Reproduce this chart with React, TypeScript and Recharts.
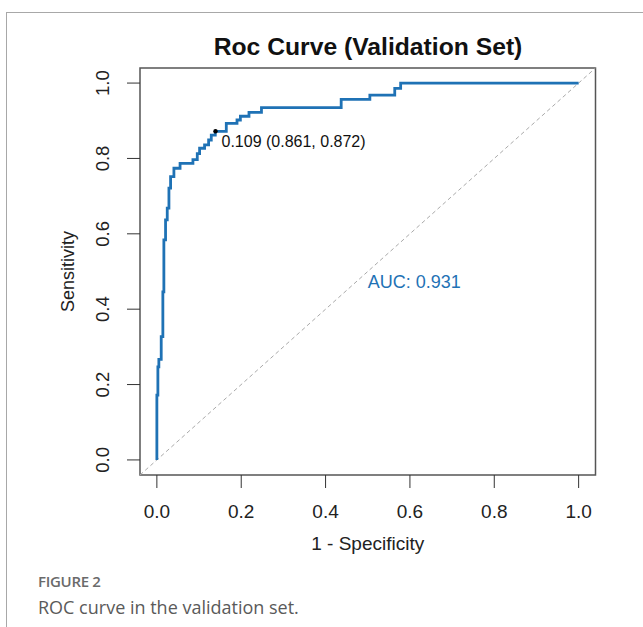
import React from "react";
import {
	LineChart,
	Line,
	XAxis,
	YAxis,
	ReferenceLine,
	ReferenceArea,
	ReferenceDot,
} from "recharts";

// staircase vertices (1 - specificity, sensitivity)
const fpr = [
	0, 0, 0.0024, 0.0024, 0.0047, 0.0047, 0.0103, 0.0103, 0.0142, 0.0142, 0.0166,
	0.0166, 0.0206, 0.0206, 0.0246, 0.0246, 0.0286, 0.0286, 0.0325, 0.0325,
	0.0404, 0.0404, 0.055, 0.055, 0.0855, 0.0855, 0.0958, 0.0958, 0.1013, 0.1013,
	0.1131, 0.1131, 0.1227, 0.1227, 0.129, 0.129, 0.1385, 0.1385, 0.1646, 0.1646,
	0.19, 0.19, 0.198, 0.198, 0.2184, 0.2184, 0.248, 0.248, 0.437, 0.437, 0.505,
	0.505, 0.564, 0.564, 0.578, 0.578, 1,
];
const tpr = [
	0, 0.172, 0.172, 0.247, 0.247, 0.267, 0.267, 0.327, 0.327, 0.446, 0.446,
	0.584, 0.584, 0.637, 0.637, 0.668, 0.668, 0.721, 0.721, 0.752, 0.752, 0.774,
	0.774, 0.787, 0.787, 0.797, 0.797, 0.813, 0.813, 0.827, 0.827, 0.836, 0.836,
	0.849, 0.849, 0.862, 0.862, 0.872, 0.872, 0.893, 0.893, 0.902, 0.902, 0.912,
	0.912, 0.922, 0.922, 0.935, 0.935, 0.957, 0.957, 0.968, 0.968, 0.986, 0.986,
	1, 1,
];
const xTicks = [0, 0.2, 0.4, 0.6, 0.8, 1];
const yTicks = [0, 0.2, 0.4, 0.6, 0.8, 1];
const bestPoint = { fpr: 0.139, tpr: 0.872, label: "0.109 (0.861, 0.872)" };
const aucText = "AUC: 0.931";

const data = fpr.map((x, i) => ({ fpr: x, tpr: tpr[i] }));

const FONT = "'Liberation Sans', Arial, sans-serif";
const BLUE = "#1f72b5";
const LO = -0.04;
const HI = 1.04;

const XTick = ({ x, y, payload }: any) => (
	<text
		x={x}
		y={y + 27.5}
		textAnchor="middle"
		fontSize={19}
		fontFamily={FONT}
		fill="#222"
	>
		{Number(payload.value).toFixed(1)}
	</text>
);

const YTick = ({ x, y, payload }: any) => (
	<text
		x={x - 22}
		y={y}
		transform={`rotate(-90 ${x - 22} ${y})`}
		textAnchor="middle"
		dominantBaseline="central"
		fontSize={18.5}
		fontFamily={FONT}
		fill="#222"
	>
		{Number(payload.value).toFixed(1)}
	</text>
);

export default function App() {
	return (
		<div
			style={{
				position: "absolute",
				left: 0,
				top: 0,
				width: 643,
				height: 627,
				background: "#fff",
				overflow: "hidden",
			}}
		>
			<div
				style={{
					position: "absolute",
					left: 6,
					top: 12,
					width: 700,
					height: 700,
					borderLeft: "1.5px solid #a8a8a8",
					borderTop: "1.5px solid #a8a8a8",
				}}
			/>
			<div
				style={{
					position: "absolute",
					left: 0,
					width: 736,
					top: 35,
					textAlign: "center",
					fontFamily: FONT,
					fontWeight: "bold",
					fontSize: 24.7,
					lineHeight: "24px",
					color: "#111",
				}}
			>
				Roc Curve (Validation Set)
			</div>
			<div style={{ position: "absolute", left: 0, top: 0 }}>
				<LineChart
					width={643}
					height={627}
					data={data}
					margin={{ top: 68, right: 47.5, bottom: 72, left: 60 }}
				>
					<XAxis
						type="number"
						dataKey="fpr"
						domain={[LO, HI]}
						ticks={xTicks}
						allowDataOverflow
						axisLine={false}
						tickLine={{ stroke: "#333" }}
						tickSize={13}
						tickMargin={2}
						height={80}
						tick={<XTick />}
						label={(p: any) => {
							const vb = p.viewBox;
							return (
								<text
									x={vb.x + vb.width / 2}
									y={549.5}
									textAnchor="middle"
									fontSize={19}
									fontFamily={FONT}
									fill="#222"
								>
									1 - Specificity
								</text>
							);
						}}
					/>
					<YAxis
						type="number"
						domain={[LO, HI]}
						ticks={yTicks}
						allowDataOverflow
						axisLine={false}
						tickLine={{ stroke: "#333" }}
						tickSize={13}
						tickMargin={2}
						width={80}
						tick={<YTick />}
						label={(p: any) => {
							const vb = p.viewBox;
							const cy = vb.y + vb.height / 2;
							return (
								<text
									x={68}
									y={cy}
									transform={`rotate(-90 68 ${cy})`}
									textAnchor="middle"
									dominantBaseline="central"
									fontSize={18}
									fontFamily={FONT}
									fill="#222"
								>
									Sensitivity
								</text>
							);
						}}
					/>
					<ReferenceArea
						x1={LO}
						x2={HI}
						y1={LO}
						y2={HI}
						fill="none"
						stroke="#555"
						strokeWidth={1.5}
						ifOverflow="visible"
					/>
					<ReferenceLine
						segment={[
							{ x: LO, y: LO },
							{ x: HI, y: HI },
						]}
						stroke="#aaa"
						strokeWidth={1}
						strokeDasharray="4 3"
						ifOverflow="visible"
					/>
					<Line
						type="linear"
						dataKey="tpr"
						stroke={BLUE}
						strokeWidth={2.8}
						dot={false}
						isAnimationActive={false}
					/>
					<ReferenceDot
						x={bestPoint.fpr}
						y={bestPoint.tpr}
						r={2.2}
						fill="#000"
						stroke="none"
						label={(p: any) => {
							const vb = p.viewBox;
							const cx = vb.x + vb.width / 2;
							const cy = vb.y + vb.height / 2;
							return (
								<text
									x={cx + 6}
									y={cy + 16}
									fontSize={16}
									fontFamily={FONT}
									fill="#111"
								>
									{bestPoint.label}
								</text>
							);
						}}
					/>
					<ReferenceDot
						x={0.5}
						y={0.5}
						r={0}
						fill="none"
						stroke="none"
						label={(p: any) => {
							const vb = p.viewBox;
							const cx = vb.x + vb.width / 2;
							const cy = vb.y + vb.height / 2;
							return (
								<text
									x={cx}
									y={cy + 16}
									fontSize={18}
									fontFamily={FONT}
									fill={BLUE}
								>
									{aucText}
								</text>
							);
						}}
					/>
				</LineChart>
			</div>
			<div
				style={{
					position: "absolute",
					left: 38,
					top: 572,
					fontFamily: "'Open Sans', sans-serif",
					fontWeight: 600,
					fontSize: 15,
					lineHeight: "18px",
					color: "#6a6a6a",
					letterSpacing: -0.3,
				}}
			>
				FIGURE 2
			</div>
			<div
				style={{
					position: "absolute",
					left: 38,
					top: 596,
					fontFamily: "'Open Sans', sans-serif",
					fontWeight: 400,
					fontSize: 18,
					lineHeight: "22px",
					color: "#5a5a5a",
				}}
			>
				ROC curve in the validation set.
			</div>
		</div>
	);
}
